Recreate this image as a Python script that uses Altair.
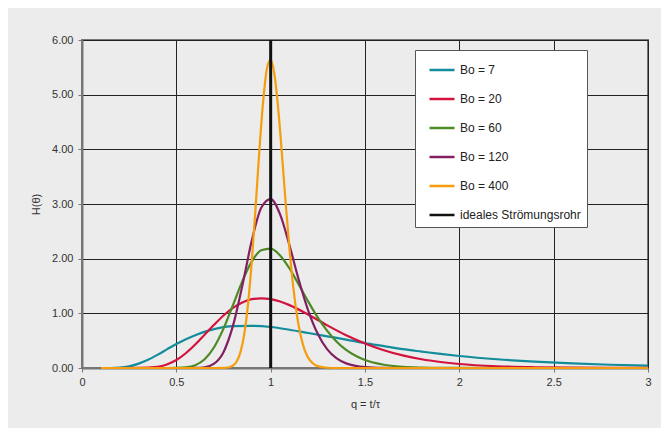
import altair as alt
import pandas as pd

series_names = ["Bo = 7", "Bo = 20", "Bo = 60", "Bo = 120", "Bo = 400", "ideales Strömungsrohr"]
series_colors = ["#138c9c", "#d3123e", "#4c8a25", "#822161", "#f59d0e", "#111111"]

q_bo7 = [0.1, 0.15, 0.2, 0.25, 0.3, 0.35, 0.4, 0.45, 0.5, 0.6, 0.7, 0.8, 0.9, 1.0, 1.1, 1.2, 1.3, 1.4,
         1.5, 1.6, 1.7, 1.8, 1.9, 2.0, 2.2, 2.4, 2.6, 2.8, 3.0]
h_bo7 = [0.0, 0.0, 0.006, 0.03, 0.08, 0.15, 0.24, 0.34, 0.44, 0.60, 0.71, 0.765, 0.77, 0.75, 0.70, 0.64,
         0.58, 0.52, 0.455, 0.40, 0.345, 0.30, 0.257, 0.22, 0.16, 0.115, 0.083, 0.059, 0.042]

q_bo20 = [0.1, 0.2, 0.3, 0.4, 0.45, 0.5, 0.55, 0.6, 0.65, 0.7, 0.75, 0.8, 0.85, 0.9, 0.95, 1.0, 1.05,
          1.1, 1.2, 1.3, 1.4, 1.5, 1.6, 1.7, 1.8, 1.9, 2.0, 2.2, 2.4, 2.6, 2.8, 3.0]
h_bo20 = [0.0, 0.0, 0.001, 0.022, 0.065, 0.146, 0.27, 0.43, 0.61, 0.79, 0.96, 1.10, 1.20, 1.26, 1.275,
          1.26, 1.217, 1.15, 0.975, 0.78, 0.60, 0.45, 0.325, 0.23, 0.16, 0.11, 0.073, 0.032, 0.014,
          0.006, 0.002, 0.001]

q_bo60 = [0.1, 0.45, 0.5, 0.55, 0.6, 0.65, 0.7, 0.75, 0.8, 0.85, 0.9, 0.95, 1.0, 1.05, 1.1, 1.15, 1.2,
          1.25, 1.3, 1.35, 1.4, 1.45, 1.5, 1.6, 1.7, 1.8, 1.9, 2.0, 2.5, 3.0]
h_bo60 = [0.0, 0.0, 0.002, 0.012, 0.052, 0.16, 0.38, 0.72, 1.15, 1.59, 1.95, 2.155, 2.185, 2.06, 1.82,
          1.52, 1.21, 0.92, 0.68, 0.48, 0.33, 0.223, 0.146, 0.059, 0.022, 0.008, 0.0026, 0.001, 0.0, 0.0]

q_bo120 = [0.1, 0.55, 0.6, 0.65, 0.7, 0.75, 0.8, 0.85, 0.9, 0.95, 1.0, 1.05, 1.1, 1.15, 1.2, 1.25, 1.3,
           1.35, 1.4, 1.45, 1.5, 1.6, 1.7, 2.0, 3.0]
h_bo120 = [0.0, 0.0, 0.001, 0.013, 0.078, 0.29, 0.77, 1.51, 2.33, 2.93, 3.09, 2.81, 2.24, 1.60, 1.04,
           0.62, 0.34, 0.175, 0.085, 0.039, 0.017, 0.003, 0.0, 0.0, 0.0]

q_bo400 = [0.1, 0.7, 0.75, 0.78, 0.8, 0.82, 0.84, 0.86, 0.88, 0.9, 0.92, 0.94, 0.96, 0.98, 1.0, 1.02,
           1.04, 1.06, 1.08, 1.1, 1.12, 1.14, 1.16, 1.18, 1.2, 1.22, 1.25, 1.3, 1.35, 2.0, 3.0]
h_bo400 = [0.0, 0.0, 0.002, 0.013, 0.043, 0.12, 0.29, 0.62, 1.17, 1.96, 2.93, 3.97, 4.87, 5.47, 5.64,
           5.37, 4.74, 3.90, 3.00, 2.17, 1.47, 0.95, 0.58, 0.33, 0.18, 0.097, 0.034, 0.005, 0.0, 0.0, 0.0]

q_ideal = [1.0, 1.0]
h_ideal = [0.0, 6.0]

x_ticks = [0, 0.5, 1, 1.5, 2, 2.5, 3]
y_ticks = [0, 1, 2, 3, 4, 5, 6]

rows = []
for name, qs, hs in zip(series_names,
                        [q_bo7, q_bo20, q_bo60, q_bo120, q_bo400, q_ideal],
                        [h_bo7, h_bo20, h_bo60, h_bo120, h_bo400, h_ideal]):
    for i, (q, h) in enumerate(zip(qs, hs)):
        rows.append({"series": name, "q": q, "h": h, "i": i})
df = pd.DataFrame(rows)

FONT = "Liberation Sans"

chart = alt.Chart(df).mark_line(interpolate="monotone").encode(
    x=alt.X("q:Q", scale=alt.Scale(domain=[0, 3], nice=False),
            axis=alt.Axis(values=x_ticks, format="~g", title="q = t/τ", titlePadding=11,
                          labelPadding=4, labelFlush=False)),
    y=alt.Y("h:Q", scale=alt.Scale(domain=[0, 6], nice=False),
            axis=alt.Axis(values=y_ticks, format=".2f", title="H(θ)", titlePadding=10,
                          labelPadding=5, labelFlush=False)),
    color=alt.Color("series:N", sort=series_names,
                    scale=alt.Scale(domain=series_names, range=series_colors),
                    legend=alt.Legend(title=" ", titleOrient="left", titlePadding=7,
                                      orient="none", legendX=333, legendY=10, direction="vertical",
                                      symbolType="stroke", symbolSize=625, symbolStrokeWidth=2.5,
                                      labelFontSize=12, labelFont=FONT, labelColor="#222",
                                      labelOffset=4, rowPadding=9, padding=6,
                                      fillColor="white", strokeColor="#555")),
    order=alt.Order("i:Q"),
    strokeWidth=alt.condition(alt.datum.series == "ideales Strömungsrohr", alt.value(3), alt.value(2.2)),
).properties(
    width=566, height=328,
    autosize=alt.AutoSizeParams(type="none"),
    padding={"left": 74, "top": 32, "right": 13, "bottom": 60},
    background="#ebeceb",
).configure_view(
    stroke="#777", strokeWidth=2, fill="#ebeceb"
).configure_axis(
    domainColor="#777", domainWidth=2, gridColor="#222", gridWidth=1,
    tickColor="#777", tickSize=4, tickWidth=1,
    labelFont=FONT, labelFontSize=11, labelColor="#333",
    titleFont=FONT, titleFontSize=11, titleFontWeight="normal", titleColor="#333",
)

chart.save("out.html", embed_options={"renderer": "svg", "actions": False})
